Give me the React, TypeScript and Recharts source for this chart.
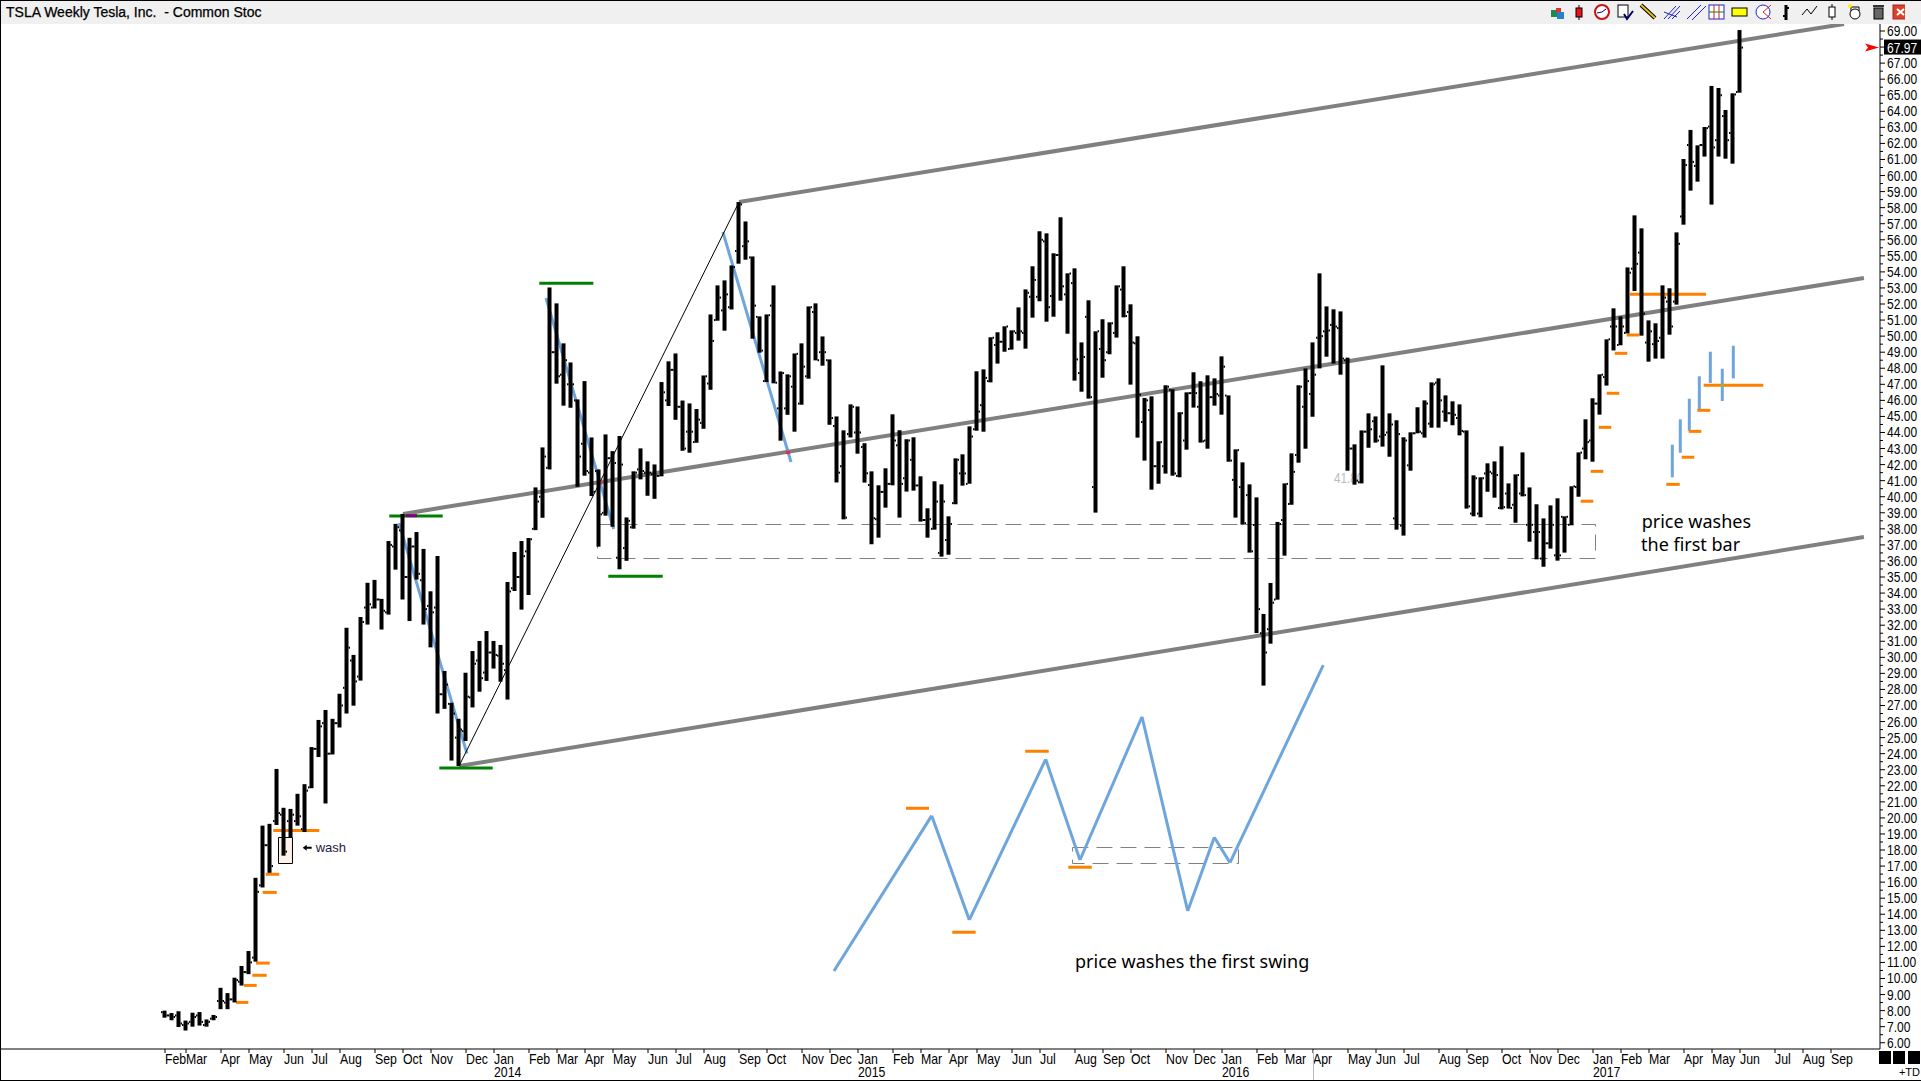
import React from "react";
import { ComposedChart, Bar, XAxis, YAxis, ReferenceLine, ReferenceArea, ReferenceDot } from "recharts";

const highs = [8.00,7.85,7.96,7.38,7.87,7.91,7.45,7.73,9.42,9.09,10.05,10.78,11.71,16.27,19.52,19.63,23.05,20.63,20.56,21.50,22.10,24.41,26.10,26.72,26.17,27.73,31.84,30.15,32.51,34.64,34.82,33.64,37.24,38.31,38.93,37.44,37.80,36.75,34.11,36.31,29.15,27.17,26.17,29.04,30.39,31.02,31.64,31.02,30.77,34.69,36.56,37.24,37.43,40.58,43.07,53.03,52.04,49.55,48.36,46.06,47.20,43.69,41.70,43.88,42.84,43.78,38.71,41.58,43.01,42.20,42.01,47.14,48.43,48.92,45.99,45.81,45.46,47.55,51.35,53.16,53.47,54.40,58.35,57.14,54.96,51.23,51.35,53.16,47.80,47.62,48.92,49.55,51.85,52.04,49.98,48.55,45.00,44.13,45.75,45.62,43.33,41.58,40.71,41.77,45.13,44.14,43.58,43.70,41.27,39.28,40.96,40.77,38.78,42.39,42.64,44.38,47.81,47.93,49.93,50.24,50.61,50.36,51.79,52.91,54.35,56.53,56.40,55.16,57.40,53.91,54.22,49.61,52.23,50.30,51.05,50.86,53.16,54.35,51.98,49.99,46.15,46.25,43.45,46.94,46.69,45.26,46.50,47.75,47.19,47.56,47.37,48.74,46.31,42.95,42.14,40.77,39.96,32.70,34.63,38.43,40.83,42.70,46.94,47.99,49.61,53.91,51.85,51.67,51.54,48.66,43.26,44.13,45.19,45.00,48.18,45.19,44.76,43.70,44.01,45.57,46.00,47.12,47.37,46.31,45.94,45.75,44.13,41.33,41.21,42.08,42.20,43.14,40.83,41.39,42.76,40.58,39.53,38.65,39.46,39.90,38.78,40.65,42.76,44.82,46.13,47.62,49.80,51.73,51.23,54.28,57.52,56.71,50.98,50.80,53.16,52.98,56.46,61.03,62.84,61.88,63.02,65.58,65.45,64.08,65.12,69.06];
const lows = [7.56,7.40,6.98,6.76,7.00,7.07,7.00,7.40,8.09,8.09,8.51,9.56,10.27,11.05,15.67,16.58,19.56,17.65,18.79,19.52,19.12,21.85,23.79,20.90,23.95,25.63,26.50,26.99,28.55,32.04,33.04,31.73,32.66,35.46,33.60,32.26,34.84,32.04,30.62,26.50,26.79,23.57,23.23,24.79,26.88,27.86,28.53,29.30,28.48,27.37,34.13,32.97,33.88,37.92,38.69,41.70,47.04,45.67,45.54,40.62,41.31,40.04,36.89,38.82,38.13,35.48,36.01,38.01,41.08,40.06,39.87,41.27,45.65,44.79,42.86,42.74,43.36,44.23,46.66,50.96,50.34,51.66,54.51,54.76,49.84,48.97,47.14,47.06,43.49,45.10,44.05,45.73,47.35,48.49,48.16,44.48,40.89,38.59,43.69,42.68,40.88,37.04,37.45,39.32,40.71,38.70,40.32,40.38,38.45,37.45,37.95,36.27,36.39,39.53,40.69,40.81,44.11,44.05,47.12,48.29,49.03,49.16,49.72,49.22,51.15,52.17,50.90,51.21,52.21,50.15,47.23,46.54,46.11,39.01,47.41,48.87,49.91,51.17,46.98,43.68,42.25,40.44,40.81,41.44,41.31,41.21,42.93,45.55,43.37,42.99,45.67,45.11,42.18,38.70,38.26,36.52,31.51,28.24,30.85,33.59,36.33,39.50,42.12,42.99,44.98,47.99,48.72,48.29,47.60,41.62,40.75,40.83,43.05,43.37,43.12,42.49,37.95,37.58,41.62,43.95,43.68,44.30,44.30,44.67,44.45,43.82,39.26,38.78,38.72,40.31,39.94,39.21,39.26,38.38,40.02,37.20,36.10,35.64,36.77,36.02,36.52,38.22,40.00,42.33,42.18,45.11,46.92,49.11,49.43,50.17,52.81,50.03,48.41,48.60,48.60,50.09,51.96,56.94,59.06,59.62,61.18,58.19,61.18,61.05,60.74,65.16];
const opens = [7.9,7.7,7.7,7.1,7.3,7.7,7.1,7.5,8.6,8.5,8.7,9.8,10.4,11.3,15.8,18.3,19.8,20.2,19.8,19.8,19.3,21.9,24.3,25.9,24.0,25.9,28.1,29.8,28.8,33.1,33.1,33.6,32.8,36.9,37.9,35.0,36.9,34.8,33.2,33.1,27.7,27.1,25.0,25.4,27.5,29.8,29.05,30.3,30.1,29.2,34.3,35.0,36.6,38.0,40.0,41.8,49.0,47.6,47.0,46.0,43.3,41.5,41.6,39.0,42.4,36.2,36.8,38.1,41.7,41.5,41.4,41.3,46.0,47.9,45.6,44.05,43.4,44.6,47.05,51.0,51.6,51.8,55.3,55.6,54.9,51.2,47.2,51.9,45.5,45.5,46.85,45.8,47.5,51.5,49.0,48.5,44.4,41.9,43.9,44.0,43.1,40.73,38.6,40.3,40.8,43.2,41.15,42.3,40.7,38.55,38.0,36.5,37.3,39.6,41.45,40.8,44.2,45.7,47.2,49.45,49.65,49.2,50.2,50.2,52.45,52.45,55.9,52.5,55.05,52.6,53.3,47.7,51.2,40.6,49.2,49.0,50.2,52.9,51.5,49.55,44.65,45.4,41.9,41.9,46.65,41.3,43.5,46.45,45.6,43.5,46.2,46.3,46.3,41.05,40.6,40.1,38.24,31.5,31.75,33.6,38.55,39.55,42.6,45.6,46.4,49.9,50.3,50.7,50.5,48.5,43.0,40.9,44.05,44.7,43.75,44.0,38.65,38.2,41.95,43.95,43.95,44.55,47.1,45.3,45.2,44.9,44.05,38.95,38.95,41.45,41.45,39.3,40.2,39.5,40.2,38.25,37.8,36.15,37.1,36.35,38.75,38.25,40.6,43.0,43.5,45.8,47.45,50.6,49.45,50.2,54.2,55.2,49.6,49.5,49.9,52.15,52.15,57.45,61.9,60.6,61.9,63.05,62.2,63.7,62.65,65.2];
const closes = [7.7,7.6,7.2,7.2,7.6,7.3,7.3,7.6,8.6,8.7,9.9,10.4,11.0,15.4,18.3,17.0,20.3,17.9,20.2,20.1,21.7,24.3,25.7,24.0,25.9,27.0,30.6,28.5,32.2,33.3,33.6,32.9,37.0,38.1,35.0,36.9,35.2,33.0,32.8,27.7,28.3,26.5,25.5,27.55,29.6,28.7,30.3,30.15,29.6,34.1,35.0,36.3,37.35,39.7,42.5,49.0,47.5,48.5,47.0,42.5,41.6,40.3,38.9,42.4,42.1,42.0,38.5,41.5,41.6,41.5,41.3,46.5,47.9,45.6,43.0,44.05,44.8,47.5,49.7,52.4,52.6,54.3,58.2,55.9,51.9,49.1,51.3,47.1,47.7,47.5,48.9,48.1,51.8,48.5,49.0,44.9,41.5,38.7,45.6,44.0,41.46,38.66,40.3,40.8,43.5,40.8,43.5,40.7,38.55,38.6,39.7,39.7,38.3,42.3,41.45,43.75,45.3,47.4,49.9,49.65,50.6,50.3,50.3,52.7,53.5,56.0,51.8,55.05,53.1,53.9,48.55,48.7,46.2,50.3,48.5,50.8,53.1,51.25,49.6,46.35,46.0,41.9,43.4,46.85,41.45,45.2,46.45,46.45,43.45,46.2,46.4,48.1,42.25,42.9,38.35,36.6,33.0,30.3,33.4,38.3,40.8,41.55,46.85,47.2,47.6,50.0,50.35,50.6,48.6,43.0,41.0,44.05,44.2,43.5,43.85,44.5,43.9,43.5,43.95,44.05,45.8,47.0,46.0,45.2,45.1,44.1,39.4,41.15,41.15,41.55,41.35,39.35,39.3,41.35,40.1,38.25,37.8,37.1,38.25,36.35,38.75,40.65,42.75,43.4,45.8,47.6,49.8,50.6,50.6,53.95,54.5,51.4,50.3,49.7,52.4,50.6,55.75,60.65,60.85,61.9,62.95,61.75,65.0,62.2,65.05,67.97];

const weeks = highs.map((_, i) => i);
const table = weeks.map((w) => ({ w, range: [lows[w], highs[w]], high: highs[w], low: lows[w], open: opens[w], close: closes[w] }));

const monthTicks: [number, string, string?][] = [
  [0,"Feb"],[3,"Mar"],[8,"Apr"],[12,"May"],[17,"Jun"],[21,"Jul"],[25,"Aug"],[30,"Sep"],[34,"Oct"],[38,"Nov"],[43,"Dec"],[47,"Jan","2014"],
  [52,"Feb"],[56,"Mar"],[60,"Apr"],[64,"May"],[69,"Jun"],[73,"Jul"],[77,"Aug"],[82,"Sep"],[86,"Oct"],[91,"Nov"],[95,"Dec"],[99,"Jan","2015"],
  [104,"Feb"],[108,"Mar"],[112,"Apr"],[116,"May"],[121,"Jun"],[125,"Jul"],[130,"Aug"],[134,"Sep"],[138,"Oct"],[143,"Nov"],[147,"Dec"],[151,"Jan","2016"],
  [156,"Feb"],[160,"Mar"],[164,"Apr"],[169,"May"],[173,"Jun"],[177,"Jul"],[182,"Aug"],[186,"Sep"],[191,"Oct"],[195,"Nov"],[199,"Dec"],[204,"Jan","2017"],
  [208,"Feb"],[212,"Mar"],[217,"Apr"],[221,"May"],[225,"Jun"],[230,"Jul"],[234,"Aug"],[238,"Sep"],
];
const priceTicks = [6,7,8,9,10,11,12,13,14,15,16,17,18,19,20,21,22,23,24,25,26,27,28,29,30,31,32,33,34,35,36,37,38,39,40,41,42,43,44,45,46,47,48,49,50,51,52,53,54,55,56,57,58,59,60,61,62,63,64,65,66,67,68,69];
const halfTicks = [6.5,7.5,8.5,9.5,10.5,11.5,12.5,13.5,14.5,15.5,16.5,17.5,18.5,19.5,20.5,21.5,22.5,23.5,24.5,25.5,26.5,27.5,28.5,29.5,30.5,31.5,32.5,33.5,34.5,35.5,36.5,37.5,38.5,39.5,40.5,41.5,42.5,43.5,44.5,45.5,46.5,47.5,48.5,49.5,50.5,51.5,52.5,53.5,54.5,55.5,56.5,57.5,58.5,59.5,60.5,61.5,62.5,63.5,64.5,65.5,66.5,67.5,68.5];
const lastPrice = 67.97;

type Seg = [number, number, number, number];
const channels: Seg[] = [
  [82, 58.35, 239.86, 69.44],
  [34, 38.93, 242.7, 53.62],
  [42, 23.23, 242.7, 37.49],
];
const thinLeg: Seg[] = [[42, 23.23, 82, 58.35]];
const blueSlides: Seg[] = [
  [33.43, 38.36, 43.14, 24.0],
  [54.43, 52.37, 64.1, 37.99],
  [79.7, 56.48, 89.43, 42.16],
];
const swingWeeks = [95.57, 109.53, 114.9, 125.81, 130.71, 139.57, 146.1, 149.9, 152.14, 165.47];
const swingPrices = [10.47, 20.14, 13.65, 23.65, 17.38, 26.30, 14.21, 18.8, 17.21, 29.52];
const sampleBars: Seg[] = [
  [215.33, 43.24, 215.33, 41.21],
  [216.47, 44.82, 216.47, 42.74],
  [217.76, 46.1, 217.76, 44.11],
  [219.19, 47.5, 219.19, 45.4],
  [220.76, 49.03, 220.76, 47.08],
  [222.47, 47.97, 222.47, 45.96],
  [224.04, 49.4, 224.04, 47.37],
];
const orangeLevels: [number, number, number][] = [
  [10.14,11.9,8.51],[11.29,13.1,9.57],[12.47,14.53,10.2],[13,14.96,10.96],[13.96,15.96,15.36],[14.39,16.33,16.49],[15.47,22.04,19.22],
  [105.86,109.14,20.6],[112.47,115.81,12.88],[122.9,126.24,24.15],[129.04,132.39,16.93],
  [202.24,204.04,39.72],[203.67,205.47,41.58],[204.81,206.61,44.32],[205.96,207.76,46.44],[207.1,208.9,48.93],[208.81,210.61,50.07],[209.29,220.14,52.61],
  [214.47,216.39,40.77],[216.67,218.47,42.46],[217.67,219.47,44.07],[218.9,220.76,45.38],[219.81,228.33,46.94],
];
const greenLevels: [number, number, number][] = [
  [32.04,39.67,38.8],[39.19,46.81,23.1],[53.47,61.19,53.29],[63.33,71.1,35.05],
];
const crossMarks: [number, number, number, number, string][] = [
  [88.7, 42.75, 89.3, 42.75, "#e8265e"],
  [62.1, 40.86, 62.5, 40.86, "#e8265e"],
  [34.4, 38.82, 36, 38.82, "#800080"],
  [222.3, 46.94, 222.65, 46.94, "#7fc241"],
];
const dashBoxes: [number, number, number, number][] = [
  [61.79, 204.36, 36.152, 38.27],
  [129.64, 153.36, 17.16, 18.156],
];
const washBox = [16.21, 18.21, 17.16, 18.78];
const notes: [number, number, string, string, number, string][] = [
  [130, 10.66, "price washes the first swing", "#000", 18, "Noto Sans"],
  [210.96, 38.05, "price washes", "#000", 18, "Noto Sans"],
  [210.86, 36.64, "the first bar", "#000", 18, "Noto Sans"],
];
const sans = "'Liberation Sans',Arial,sans-serif";

const OhlcShape = (p: any) => {
  const { x, y, width, height, payload } = p;
  const cx = x + width / 2;
  const h = Math.abs(height);
  const k = h / (payload.high - payload.low);
  const oy = y + (payload.high - payload.open) * k;
  const cy = y + (payload.high - payload.close) * k;
  return (
    <g>
      <rect x={cx - 2} y={y} width={4} height={h} fill="#000" />
      <rect x={cx - 3.5} y={oy - 1} width={1.5} height={2} fill="#000" />
      <rect x={cx + 2} y={cy - 1} width={1.5} height={2} fill="#000" />
    </g>
  );
};

const Condensed = ({ x, y, k, fill, children }: any) => (
  <text transform={`translate(${x} ${y}) scale(${k} 1)`} fontFamily={sans} fontSize={14} fill={fill}>{children}</text>
);

const XTick = (p: any) => {
  const t = monthTicks.find((m) => m[0] === p.payload.value);
  if (!t) return null;
  return (
    <g>
      <line x1={p.x} x2={p.x} y1={1049} y2={1053} stroke="#000" />
      <Condensed x={p.x} y={1064} k={0.88} fill="#000">{t[1]}</Condensed>
      {t[2] ? <Condensed x={p.x} y={1077} k={0.88} fill="#000">{t[2]}</Condensed> : null}
    </g>
  );
};

const YTick = (p: any) => {
  const v = p.payload.value;
  if (v === lastPrice) {
    return (
      <g>
        <rect x={1884} y={p.y - 8} width={37} height={15} fill="#000" />
        <Condensed x={1887} y={p.y + 5} k={0.86} fill="#fff">67.97</Condensed>
      </g>
    );
  }
  const major = Number.isInteger(v);
  return (
    <g>
      <line x1={1880} x2={major ? 1885 : 1883} y1={p.y} y2={p.y} stroke="#000" />
      {major ? <Condensed x={1887} y={p.y + 5} k={0.86} fill="#000">{v.toFixed(2)}</Condensed> : null}
    </g>
  );
};

const LAYER = 100;
const seg = (s: Seg, key: string, stroke: string, width: number) => (
  <ReferenceLine key={key} zIndex={LAYER} segment={[{ x: s[0], y: s[1] }, { x: s[2], y: s[3] }]} stroke={stroke} strokeWidth={width} ifOverflow="visible" />
);

const Note = (n: [number, number, string, string, number, string], key: string) => (
  <ReferenceDot key={key} x={n[0]} y={n[1]} r={0} ifOverflow="visible" zIndex={2000}
    shape={(p: any) => <text x={p.cx} y={p.cy} fill={n[3]} fontSize={n[4]} fontFamily={n[5]}>{n[2]}</text>} />
);

const Toolbar = () => (
  <svg width={360} height={23} style={{ position: "absolute", left: 1545, top: 1 }} viewBox="1545 1 360 23">
    <g>
      <rect x={1551} y={10} width={7} height={7} fill="#1c8c4c" /><rect x={1556} y={8} width={5} height={5} fill="#d33" /><rect x={1557} y={12} width={7} height={7} fill="#2a7fc9" />
      <line x1={1579} x2={1579} y1={5} y2={20} stroke="#000" /><rect x={1576} y={8} width={6} height={9} fill="#e11" stroke="#000" />
      <circle cx={1602} cy={12} r={7} fill="#fff" stroke="#c11" strokeWidth={2} /><path d="M1597 13 L1602 12 L1606 9" stroke="#00a" fill="none" />
      <rect x={1618} y={5} width={10} height={12} fill="#fff" stroke="#000" /><path d="M1624 14 L1627 19 L1633 11" stroke="#006" strokeWidth={2} fill="none" />
      <path d="M1641 5 L1655 18" stroke="#000" strokeWidth={4} /><path d="M1641 5 L1655 18" stroke="#e8c020" strokeWidth={2} />
      <path d="M1664 19 L1676 6 M1668 19 L1680 6 M1672 19 L1680 11 M1664 12 L1677 17" stroke="#22c" fill="none" />
      <path d="M1687 19 L1701 5 M1692 20 L1706 6" stroke="#22c" fill="none" />
      <rect x={1709} y={5} width={15} height={14} fill="#fff" stroke="#22c" /><path d="M1709 12 H1724" stroke="#080" /><path d="M1714 5 V19 M1719 5 V19" stroke="#c22" />
      <rect x={1732} y={8} width={15} height={8} fill="#ff0" stroke="#000" />
      <circle cx={1763} cy={12} r={7} fill="#fff" stroke="#22c" /><path d="M1763 12 L1771 5 M1763 12 L1771 19" stroke="#d22" />
      <path d="M1786 5 V20" stroke="#000" strokeWidth={3} /><rect x={1783} y={15} width={2} height={2} fill="#000" /><rect x={1787} y={7} width={2} height={2} fill="#000" />
      <path d="M1802 15 L1807 9 L1811 14 L1817 6" stroke="#000" fill="none" />
      <path d="M1832 4 V20" stroke="#000" /><rect x={1829} y={7} width={6} height={10} fill="#fff" stroke="#000" />
      <circle cx={1855} cy={14} r={5} fill="#fff" stroke="#000" /><path d="M1851 11 V7 H1859 V11" stroke="#000" fill="none" /><circle cx={1850} cy={6} r={2} fill="#fe0" />
      <rect x={1874} y={8} width={9} height={11} fill="#666" stroke="#000" /><rect x={1873} y={5} width={11} height={2} fill="#333" />
      <rect x={1893} y={5} width={15} height={14} fill="#d9432a" stroke="#a22" /><path d="M1897 9 L1904 15 M1904 9 L1897 15" stroke="#fff" strokeWidth={2} />
    </g>
  </svg>
);

export default function App() {
  return (
    <div style={{ position: "absolute", left: 0, top: 0, width: 1921, height: 1081, overflow: "hidden", background: "#fff" }}>
      <ComposedChart width={1921} height={1081} data={table} margin={{ top: 24, right: 0, left: 1, bottom: 0 }} barSize={4}>
        <XAxis dataKey="w" type="number" domain={[-23.43, 245]} allowDataOverflow height={32} ticks={monthTicks.map((m) => m[0])} interval={0} tick={XTick} tickLine={false} axisLine={{ stroke: "#000" }} />
        <YAxis orientation="right" type="number" domain={[5.61, 69.436]} allowDataOverflow width={41} ticks={[...priceTicks, ...halfTicks, lastPrice]} interval={0} tick={YTick} tickLine={false} axisLine={{ stroke: "#000" }} />
        <ReferenceArea zIndex={LAYER} x1={washBox[0]} x2={washBox[1]} y1={washBox[2]} y2={washBox[3]} fill="#fdf1ea" fillOpacity={1} stroke="#000" strokeWidth={1} ifOverflow="visible" />
        {dashBoxes.map((b, k) => (
          <ReferenceArea zIndex={LAYER} key={"box" + k} x1={b[0]} x2={b[1]} y1={b[2]} y2={b[3]} fill="none" stroke="#808080" strokeWidth={1} strokeDasharray="16 8" ifOverflow="visible" />
        ))}
        {blueSlides.map((s, k) => seg(s, "slide" + k, "#6fa5dd", 3))}
        {channels.map((s, k) => seg(s, "chan" + k, "#808080", 4))}
        {thinLeg.map((s, k) => seg(s, "thin" + k, "#000", 1))}
        {swingWeeks.slice(1).map((w, k) => seg([swingWeeks[k], swingPrices[k], w, swingPrices[k + 1]], "swing" + k, "#6fa5dd", 3))}
        {sampleBars.map((s, k) => seg(s, "sample" + k, "#6fa5dd", 3))}
        {orangeLevels.map((l, k) => seg([l[0], l[2], l[1], l[2]], "or" + k, "#ff8000", 3))}
        {greenLevels.map((l, k) => seg([l[0], l[2], l[1], l[2]], "gr" + k, "#008000", 3))}
        {crossMarks.map((c, k) => seg([c[0], c[1], c[2], c[3]], "cross" + k, c[4], 3))}
        <Bar dataKey="range" isAnimationActive={false} shape={OhlcShape} zIndex={1000} />
        {notes.map((n, k) => Note(n, "note" + k))}
        <ReferenceDot x={19.67} y={17.89} r={0} ifOverflow="visible" zIndex={2000} shape={(p: any) => (
          <g>
            <path d={`M${p.cx} ${p.cy - 4} l4 -3 v2 h5 v2 h-5 v2 z`} fill="#000" />
            <text x={p.cx + 13} y={p.cy} fontSize={13} fontFamily={sans} fill="#1a1a40">wash</text>
          </g>
        )} />
        <ReferenceDot x={167} y={40.87} r={0} ifOverflow="visible" zIndex={LAYER} shape={(p: any) => (
          <Condensed x={p.cx} y={p.cy} k={0.84} fill="#bbb">41.80</Condensed>
        )} />
        <ReferenceDot x={243.86} y={lastPrice} r={0} ifOverflow="visible" zIndex={2000} shape={(p: any) => (
          <path d={`M${p.cx - 7} ${p.cy - 4} L${p.cx + 7} ${p.cy} L${p.cx - 7} ${p.cy + 4} L${p.cx - 4} ${p.cy} Z`} fill="#f00" />
        )} />
      </ComposedChart>
      <div style={{ position: "absolute", left: 0, top: 0, width: 1921, height: 24, background: "#f0f0f0", borderTop: "1px solid #000", boxSizing: "border-box" }}>
        <span style={{ position: "absolute", left: 6, top: 3, fontFamily: sans, fontSize: 14, color: "#000", whiteSpace: "pre", WebkitTextStroke: "0.25px #000" }}>TSLA Weekly Tesla, Inc.  - Common Stoc</span>
      </div>
      <Toolbar />
      <div style={{ position: "absolute", left: 0, top: 0, width: 1, height: 1081, background: "#000" }} />
      <div style={{ position: "absolute", left: 0, top: 1080, width: 1921, height: 1, background: "#000" }} />
      <div style={{ position: "absolute", left: 1313, top: 1050, width: 1, height: 30, background: "#bbb" }} />
      <div style={{ position: "absolute", left: 1879, top: 1051, width: 12, height: 13, background: "#000" }} />
      <div style={{ position: "absolute", left: 1893, top: 1051, width: 12, height: 13, background: "#000" }} />
      <div style={{ position: "absolute", left: 1908, top: 1051, width: 12, height: 13, background: "#000" }} />
      <span style={{ position: "absolute", right: 1, top: 1066, fontFamily: sans, fontSize: 11, color: "#000" }}>+TD</span>
    </div>
  );
}
